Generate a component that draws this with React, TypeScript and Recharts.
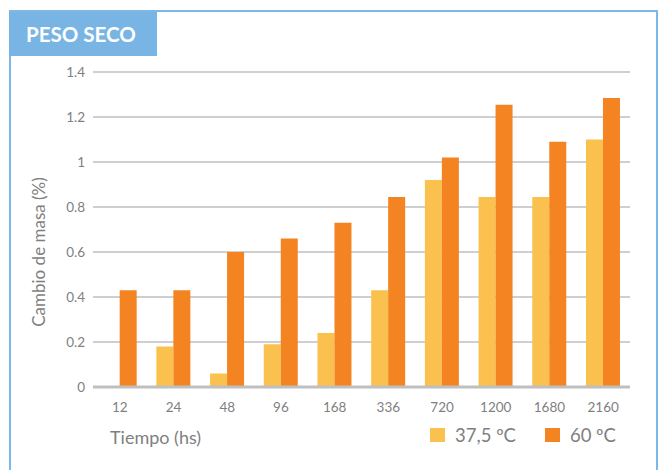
import React from 'react';
import { BarChart, Bar, XAxis, YAxis, CartesianGrid } from 'recharts';

const categories = ['12', '24', '48', '96', '168', '336', '720', '1200', '1680', '2160'];
const series375 = [0, 0.18, 0.06, 0.19, 0.24, 0.43, 0.92, 0.845, 0.845, 1.1];
const series60 = [0.43, 0.43, 0.6, 0.66, 0.73, 0.845, 1.02, 1.255, 1.09, 1.285];
const yTicks = [0, 0.2, 0.4, 0.6, 0.8, 1, 1.2, 1.4];
const seriesNames = ['37,5 ºC', '60 ºC'];
const seriesColors = ['#FBC14F', '#F48322'];

const data = categories.map((c, i) => ({ t: c, a: series375[i], b: series60[i] }));

const FONT = 'Lato, "Open Sans", sans-serif';
const GRAY = '#7F7F7F';

export default function App() {
  return (
    <div style={{ position: 'absolute', left: 0, top: 0, width: 662, height: 470, overflow: 'hidden', background: '#fff', fontFamily: FONT }}>
      <div style={{ position: 'absolute', left: 9, top: 10, width: 645, height: 480, borderTop: '2px solid #7DB8E7', borderLeft: '2px solid #7DB8E7', borderRight: '2px solid #7DB8E7' }} />
      <div style={{ position: 'absolute', left: 9, top: 12, width: 148, height: 44, background: '#78B5E5', color: '#fff', fontWeight: 700, fontSize: 20.5, lineHeight: '44px', paddingLeft: 17, boxSizing: 'border-box', whiteSpace: 'nowrap' }}>PESO SECO</div>
      <div style={{ position: 'absolute', left: 0, top: 0 }}>
        <BarChart width={662} height={470} data={data} margin={{ top: 72, right: 32, bottom: 53, left: 33 }} barCategoryGap="18%" barGap={0}>
          <CartesianGrid vertical={false} stroke="#BFBFBF" strokeWidth={1.5} />
          <XAxis dataKey="t" height={30} tickLine={false} tickSize={0} tickMargin={15} axisLine={{ stroke: '#BFBFBF', strokeWidth: 3 }} tick={{ fill: GRAY, fontSize: 13.5, fontFamily: FONT }} interval={0} />
          <YAxis width={60} domain={[0, 1.4]} ticks={yTicks} tickLine={false} tickSize={0} tickMargin={8} axisLine={false} tick={{ fill: GRAY, fontSize: 13.5, fontFamily: FONT }} tickFormatter={(v: number) => String(v)} />
          <Bar dataKey="a" name={seriesNames[0]} fill={seriesColors[0]} isAnimationActive={false} />
          <Bar dataKey="b" name={seriesNames[1]} fill={seriesColors[1]} isAnimationActive={false} />
        </BarChart>
      </div>
      <div style={{ position: 'absolute', left: 38, top: 252, transform: 'translate(-50%, -50%) rotate(-90deg)', whiteSpace: 'nowrap', color: GRAY, fontSize: 17 }}>Cambio de masa (%)</div>
      <div style={{ position: 'absolute', left: 110, top: 426, color: GRAY, fontSize: 18, whiteSpace: 'nowrap' }}>Tiempo (hs)</div>
      <div style={{ position: 'absolute', left: 430, top: 424, display: 'flex', alignItems: 'center', color: GRAY, fontSize: 18.5, whiteSpace: 'nowrap' }}>
        {seriesNames.map((n, i) => (
          <div key={n} style={{ display: 'flex', alignItems: 'center', marginRight: i === 0 ? 29 : 0 }}>
            <div style={{ width: 15, height: 14, background: seriesColors[i], marginRight: 10 }} />
            <span>{n}</span>
          </div>
        ))}
      </div>
    </div>
  );
}
